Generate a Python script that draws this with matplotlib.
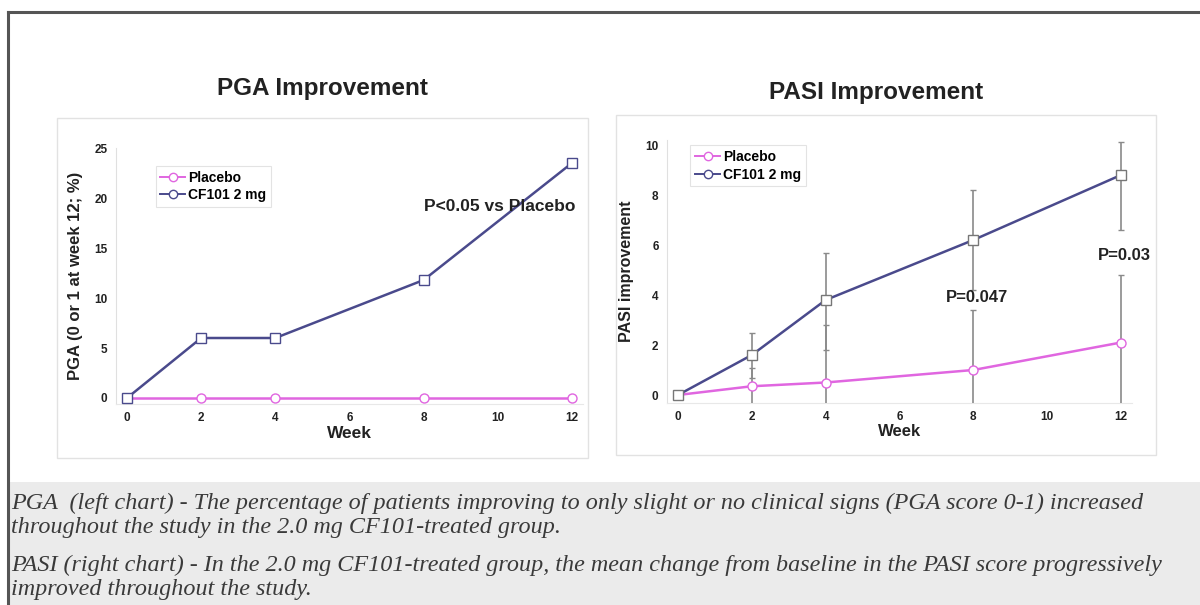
import matplotlib.pyplot as plt
from matplotlib.patches import Rectangle
from matplotlib.lines import Line2D

# data
weeks = [0, 2, 4, 8, 12]
pga_placebo = [0, 0, 0, 0, 0]
pga_cf101 = [0, 6, 6, 11.8, 23.5]

pasi_placebo = [0, 0.35, 0.5, 1.0, 2.1]
pasi_placebo_err = [0, 0.75, 2.3, 2.4, 2.7]
pasi_cf101 = [0, 1.6, 3.8, 6.2, 8.8]
pasi_cf101_lo = [0, 0.9, 2.0, 2.0, 2.2]
pasi_cf101_hi = [0, 0.9, 1.9, 2.0, 1.3]

pga_ticks = [0, 5, 10, 15, 20, 25]
pasi_ticks = [0, 2, 4, 6, 8, 10]
week_ticks = [0, 2, 4, 6, 8, 10, 12]

caption = [
    "PGA  (left chart) - The percentage of patients improving to only slight or no clinical signs (PGA score 0-1) increased",
    "throughout the study in the 2.0 mg CF101-treated group.",
    "PASI (right chart) - In the 2.0 mg CF101-treated group, the mean change from baseline in the PASI score progressively",
    "improved throughout the study.",
]

W, H = 1200, 605
C_PLA = '#e066e0'
C_CF = '#4a4a8c'
C_TXT = '#222222'
SANS = ['Liberation Sans', 'DejaVu Sans']

fig = plt.figure(figsize=(12, 6.05), dpi=100)


def px_axes(x0, y0, x1, y1, **kw):
    # pixel box (top-left origin) -> figure axes
    return fig.add_axes([x0 / W, 1 - y1 / H, (x1 - x0) / W, (y1 - y0) / H], **kw)


# background pieces: frame, caption band, panel boxes
bg = px_axes(0, 0, W, H)
bg.set_xlim(0, W)
bg.set_ylim(H, 0)
bg.axis('off')
bg.add_patch(Rectangle((8, 482), W - 8, H - 482, facecolor='#ebebeb', edgecolor='none'))
bg.plot([8, W], [12, 12], color='#555555', lw=2.2)
bg.plot([8, 8], [12, H], color='#555555', lw=2.2)
bg.add_patch(Rectangle((57, 118), 531, 340, facecolor='white', edgecolor='#e2e2e2', lw=1))
bg.add_patch(Rectangle((616, 115), 540, 340, facecolor='white', edgecolor='#e2e2e2', lw=1))

bg.text(322, 88, 'PGA Improvement', ha='center', va='center', fontsize=17.5,
        fontweight='bold', family=SANS, color=C_TXT)
bg.text(876, 92, 'PASI Improvement', ha='center', va='center', fontsize=17.5,
        fontweight='bold', family=SANS, color=C_TXT)

cap_y = [503, 527, 565, 589]
for line, y in zip(caption, cap_y):
    bg.text(11, y, line, ha='left', va='center', fontsize=17.4, style='italic',
            family=['Liberation Serif', 'DejaVu Serif'], color='#3a3a3a')


def style_axes(ax):
    for s in ['top', 'right']:
        ax.spines[s].set_visible(False)
    ax.spines['left'].set_color('#e0e0e0')
    ax.spines['bottom'].set_color('#e8e8e8')
    ax.tick_params(length=0, labelsize=8.5, colors=C_TXT, pad=6)
    for lab in ax.get_xticklabels() + ax.get_yticklabels():
        lab.set_fontweight('bold')
        lab.set_family(SANS)
    ax.set_facecolor('none')


def add_legend(ax, loc):
    handles = [
        Line2D([], [], color=C_PLA, marker='o', mfc='white', mec=C_PLA, ms=6, lw=1.4),
        Line2D([], [], color=C_CF, marker='o', mfc='white', mec=C_CF, ms=6, lw=1.4),
    ]
    leg = ax.legend(handles, ['Placebo', 'CF101 2 mg'], loc='upper left', bbox_to_anchor=loc,
                    prop={'family': SANS, 'weight': 'bold', 'size': 10},
                    frameon=True, fancybox=False, handlelength=1.8, handletextpad=0.2,
                    borderpad=0.35, labelspacing=0.25, borderaxespad=0)
    leg.get_frame().set_edgecolor('#dddddd')
    leg.get_frame().set_linewidth(0.8)


# left panel: PGA
ax1 = px_axes(115.9, 148, 583.1, 404)
ax1.plot(weeks, pga_placebo, color=C_PLA, lw=1.8, marker='o', ms=6.5, mfc='white',
         mec=C_PLA, clip_on=False, zorder=3)
ax1.plot(weeks, pga_cf101, color=C_CF, lw=1.8, marker='s', ms=6.5, mfc='white',
         mec=C_CF, clip_on=False, zorder=4)
ax1.set_xlim(-0.3, 12.3)
ax1.set_ylim(-0.6, 25)
ax1.set_xticks(week_ticks)
ax1.set_yticks(pga_ticks)
ax1.set_xlabel('Week', fontsize=12.5, fontweight='bold', family=SANS, color=C_TXT, labelpad=1)
ax1.set_ylabel('PGA (0 or 1 at week 12; %)', fontsize=12, fontweight='bold', family=SANS,
               color=C_TXT, labelpad=8)
style_axes(ax1)
add_legend(ax1, (0.085, 0.93))
ax1.text(10.05, 19.2, 'P<0.05 vs Placebo', ha='center', va='center', fontsize=12.5,
         fontweight='bold', family=SANS, color=C_TXT, zorder=5)

# right panel: PASI
ax2 = px_axes(666.9, 140, 1132.1, 402.5)
ax2.errorbar(weeks, pasi_placebo, yerr=pasi_placebo_err, color=C_PLA, ecolor='#8a8a8a',
             elinewidth=1.2, capsize=2, capthick=1, lw=1.8, marker='o', ms=6.5,
             mfc='white', mec=C_PLA, zorder=3)
ax2.errorbar(weeks, pasi_cf101, yerr=[pasi_cf101_lo, pasi_cf101_hi], color=C_CF,
             ecolor='#8a8a8a', elinewidth=1.2, capsize=2, capthick=1, lw=1.8,
             marker='s', ms=6.5, mfc='white', mec='#777777', zorder=4)
ax2.set_xlim(-0.3, 12.3)
ax2.set_ylim(-0.3, 10.2)
ax2.set_xticks(week_ticks)
ax2.set_yticks(pasi_ticks)
ax2.set_xlabel('Week', fontsize=12, fontweight='bold', family=SANS, color=C_TXT, labelpad=1)
ax2.set_ylabel('PASI improvement', fontsize=11.5, fontweight='bold', family=SANS,
               color=C_TXT, labelpad=8)
style_axes(ax2)
add_legend(ax2, (0.05, 0.98))
ax2.text(8.1, 3.9, 'P=0.047', ha='center', va='center', fontsize=12, fontweight='bold',
         family=SANS, color=C_TXT, zorder=5)
ax2.text(12.1, 5.6, 'P=0.03', ha='center', va='center', fontsize=12, fontweight='bold',
         family=SANS, color=C_TXT, zorder=5)

fig.savefig('out.png', dpi=100)
